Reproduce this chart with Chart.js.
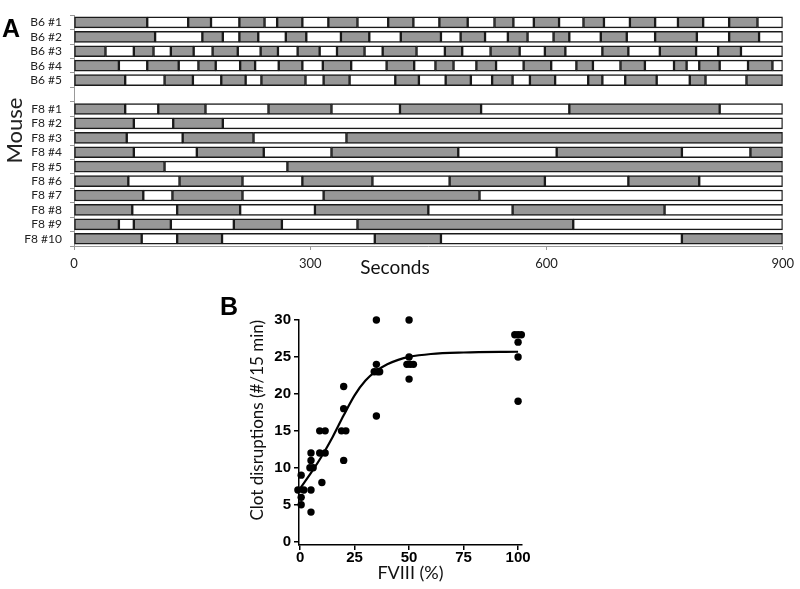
<!DOCTYPE html>
<html>
<head>
<meta charset="utf-8">
<script src="https://cdn.jsdelivr.net/npm/chart.js@4.4.1/dist/chart.umd.min.js"></script>
<style>
html,body{margin:0;padding:0;background:#fff;width:800px;height:589px;overflow:hidden;position:relative;}
canvas{position:absolute;}
#cA{left:0;top:0;}
#cB{left:220px;top:280px;}
.panel{position:absolute;font-family:"Liberation Sans",Arial,sans-serif;font-weight:bold;font-size:25px;line-height:1;color:#000;}
#secs{position:absolute;left:320px;top:257px;width:150px;text-align:center;font-family:Lato,sans-serif;font-size:19px;line-height:1;color:#111;}
</style>
</head>
<body>
<canvas id="cA" width="800" height="280"></canvas>
<canvas id="cB" width="330" height="309"></canvas>
<div class="panel" style="left:2px;top:16px;">A</div>
<div class="panel" style="left:220px;top:294px;">B</div>
<div id="secs">Seconds</div>
<script>
// ---------- Panel A: event transition times (seconds), gray/white alternate starting gray ----------
const mouseLabels = ['B6 #1','B6 #2','B6 #3','B6 #4','B6 #5','','F8 #1','F8 #2','F8 #3','F8 #4','F8 #5','F8 #6','F8 #7','F8 #8','F8 #9','F8 #10'];
const b6_1 = [0,93,145,174,210,242,258,290,323,360,399,431,464,500,534,558,584,616,647,673,706,738,767,799,832,868,900];
const b6_2 = [0,103,163,189,210,234,269,295,339,375,415,466,491,522,551,576,609,629,669,702,738,791,832,870,900];
const b6_3 = [0,40,76,101,123,152,176,208,237,259,284,312,334,369,392,435,471,493,529,566,598,624,671,704,744,790,818,847,900];
const b6_4 = [0,57,93,133,158,180,211,230,260,290,316,352,397,432,459,482,511,536,571,606,638,659,694,725,762,778,794,820,856,887,900];
const b6_5 = [0,65,115,151,187,218,238,294,317,350,408,438,472,504,531,557,579,611,653,671,700,740,782,802,854,900];
const f8_1 = [0,65,107,167,247,327,414,517,629,820,900];
const f8_2 = [0,76,126,189,900];
const f8_3 = [0,67,138,228,346,900];
const f8_4 = [0,76,156,241,327,488,613,772,859,900];
const f8_5 = [0,115,271,900];
const f8_6 = [0,69,134,214,290,379,477,598,704,794,900];
const f8_7 = [0,88,125,214,317,515,900];
const f8_8 = [0,74,131,211,306,450,557,750,900];
const f8_9 = [0,57,76,123,203,264,360,634,900];
const f8_10 = [0,86,131,188,382,466,772,900];
const xTicksA = [0,300,600,900];

// ---------- Panel B ----------
const fviii = [-1,1.7,0.5,0.5,0.5, 5,5,4.5,6,5,5, 9,11.5,9,11.5,10, 20,20,19,21,20, 35,35,34,35.5,36.5,35, 50,50,49,50.5,52,50, 98.5,100,101.5,100,100,100];
const disruptions = [7,7,9,6,5, 12,11,10,10,7,4, 15,15,12,12,8, 21,18,15,15,11, 30,24,23,23,23,17, 30,25,24,24,24,22, 28,28,28,27,25,19];
const fitX = [0,5,10,15,20,25,30,35,40,45,50,60,75,100];
const fitY = [7.2,9.3,11.6,14.2,17.1,19.8,21.8,23.1,24.0,24.6,25.0,25.4,25.6,25.7];
const xTicksB = [0,25,50,75,100];
const yTicksB = [0,5,10,15,20,25,30];

// ---------- build Panel A ----------
const rows = [b6_1,b6_2,b6_3,b6_4,b6_5,null,f8_1,f8_2,f8_3,f8_4,f8_5,f8_6,f8_7,f8_8,f8_9,f8_10];
const GRAY = '#979797';
const nSeg = Math.max(...rows.filter(r=>r).map(r=>r.length-1));
const dsA = [];
for (let i=0;i<nSeg;i++){
  dsA.push({
    data: rows.map(r => (r && i < r.length-1) ? [r[i], r[i+1]] : null),
    backgroundColor: i%2===0 ? GRAY : '#ffffff',
    borderColor: '#1a1a1a',
    borderWidth: 1.5,
    borderSkipped: false,
    barThickness: 11,
    grouped: false
  });
}
new Chart(document.getElementById('cA'), {
  type: 'bar',
  data: { labels: mouseLabels, datasets: dsA },
  options: {
    indexAxis: 'y',
    responsive: false,
    animation: false,
    devicePixelRatio: 1,
    layout: { padding: { left: 0, right: 13, top: 1, bottom: 0 } },
    plugins: { legend: { display: false }, tooltip: { enabled: false } },
    scales: {
      x: {
        type: 'linear', min: 0, max: 900,
        afterBuildTicks: s => { s.ticks = xTicksA.map(v => ({ value: v })); },
        ticks: { color: '#222', font: { family: 'Lato', size: 13 }, padding: 6 },
        grid: { drawOnChartArea: false, tickLength: 4, color: '#999' },
        border: { color: '#999', width: 1 },
        afterFit: s => { s.height = 34; }
      },
      y: {
        type: 'category', offset: true,
        ticks: { color: '#222', font: { family: 'Lato', size: 12 }, padding: 8, autoSkip: false },
        grid: { offset: true, drawOnChartArea: false, tickLength: 4, color: '#999' },
        border: { color: '#999', width: 1 },
        title: { display: true, text: 'Mouse', color: '#222', font: { family: 'Lato', size: 22 }, padding: { top: 2, bottom: 0 } },
        afterFit: s => { s.width = 74; }
      }
    }
  }
});

// ---------- build Panel B ----------
const pts = fviii.map((x,i) => ({ x: x, y: disruptions[i] }));
const fit = fitX.map((x,i) => ({ x: x, y: fitY[i] }));
new Chart(document.getElementById('cB'), {
  type: 'scatter',
  data: {
    datasets: [
      { type: 'line', data: fit, borderColor: '#000', borderWidth: 2.2, pointRadius: 0, fill: false, cubicInterpolationMode: 'monotone', clip: false },
      { type: 'scatter', data: pts, pointRadius: 3.7, backgroundColor: '#000', borderWidth: 0, clip: false }
    ]
  },
  options: {
    responsive: false,
    animation: false,
    devicePixelRatio: 1,
    layout: { padding: { left: 0, right: 28, top: 40, bottom: 0 } },
    plugins: { legend: { display: false }, tooltip: { enabled: false } },
    scales: {
      x: {
        type: 'linear', min: -0.5, max: 101.8,
        afterBuildTicks: s => { s.ticks = xTicksB.map(v => ({ value: v })); },
        ticks: { color: '#000', font: { family: 'Liberation Sans', size: 15, weight: 'bold' }, padding: -1 },
        grid: { drawOnChartArea: false, tickLength: 5, color: '#000', lineWidth: 1.5 },
        border: { color: '#000', width: 1.5 },
        title: { display: true, text: 'FVIII (%)', color: '#111', font: { family: 'Lato', size: 18 }, padding: { top: 0, bottom: 5 } },
        afterFit: s => { s.height = 44; }
      },
      y: {
        type: 'linear', min: -0.45, max: 30,
        afterBuildTicks: s => { s.ticks = yTicksB.map(v => ({ value: v })); },
        ticks: { color: '#000', font: { family: 'Liberation Sans', size: 15, weight: 'bold' }, padding: 3 },
        grid: { drawOnChartArea: false, tickLength: 5, color: '#000', lineWidth: 1.5 },
        border: { color: '#000', width: 1.5 },
        title: { display: true, text: 'Clot disruptions (#/15 min)', align: 'end', color: '#111', font: { family: 'Lato', size: 17 }, padding: { top: 27, bottom: 0 } },
        afterFit: s => { s.width = 79; }
      }
    }
  }
});
</script>
</body>
</html>
